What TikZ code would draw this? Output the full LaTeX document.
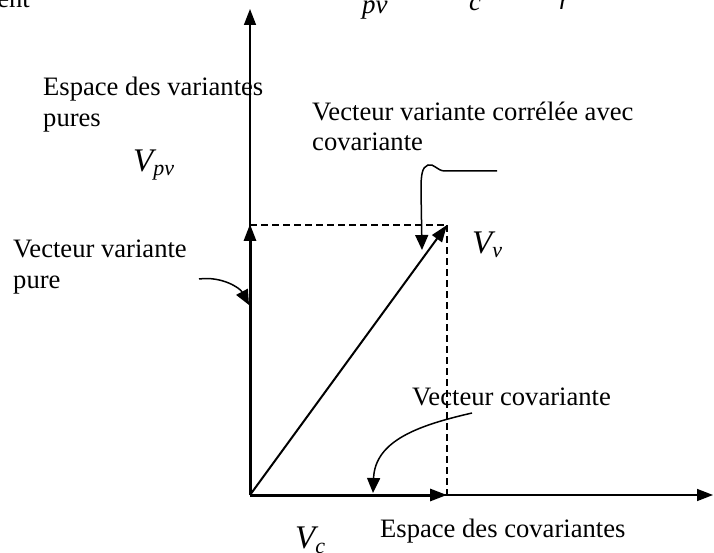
\documentclass[tikz,border=0pt]{standalone}
\usepackage{fontspec}
\setmainfont{Liberation Serif}
\usetikzlibrary{arrows.meta}
\begin{document}
\begin{tikzpicture}[x=1pt,y=-1pt,
  lbl/.style={anchor=base west, inner sep=0pt, font=\fontsize{26.6}{31}\selectfont},
  vlbl/.style={anchor=base west, inner sep=0pt, font=\fontsize{33}{36}\selectfont\itshape},
  sublbl/.style={anchor=base west, inner sep=0pt, font=\fontsize{27}{30}\selectfont\itshape},
  axisline/.style={line width=1.5pt, -{Triangle[length=16pt,width=12pt]}},
  vecline/.style={line width=3pt, -{Triangle[length=17pt,width=12pt]}},
  diagline/.style={line width=2pt, -{Triangle[length=17pt,width=12pt]}},
  guide/.style={line width=1.5pt, dash pattern=on 7pt off 4pt},
  pointer/.style={line width=1.5pt, -{Triangle[length=15pt,width=13pt]}}]
\useasboundingbox (0,0) rectangle (714,553);
\clip (0,0) rectangle (714,553);
% key points
\coordinate (O) at (250,495);
\coordinate (Ytop) at (250,9);
\coordinate (Xend) at (713,495);
\coordinate (Vc) at (447,495);
\coordinate (Vp) at (250,224);
\coordinate (Vv) at (447,225);
% guides
\draw[guide] (250,225) -- (Vv);
\draw[guide] (Vv) -- (Vc);
% axes
\draw[axisline] (O) -- (Ytop);
\draw[axisline] (O) -- (Xend);
% vectors
\draw[vecline] (O) -- (Vp);
\draw[vecline] (O) -- (Vc);
\draw[diagline] (O) -- (Vv);
% cut-off top texts
\node[lbl, anchor=base east] (topent) at (30,8) {ent};
\node[sublbl] (toppv) at (362,14) {pv};
\node[sublbl] (topc) at (469,11) {c};
\node[sublbl] (topr) at (559,10) {r};
% labels
\node[lbl] (esv1) at (43,96) {Espace des variantes};
\node[lbl] (esv2) at (43,127) {pures};
\node[vlbl] (Vpv) at (133,172) {V\raisebox{-4pt}{\fontsize{22}{24}\selectfont pv}};
\node[lbl] (vvc1) at (312,121) {Vecteur variante corrélée avec};
\node[lbl] (vvc2) at (312,151) {covariante};
\node[vlbl] (Vvl) at (472,253) {V\raisebox{-5pt}{\fontsize{22}{24}\selectfont v}};
\node[lbl] (vvp1) at (13,257) {Vecteur variante};
\node[lbl] (vvp2) at (13,288) {pure};
\node[lbl] (vcov) at (412,405) {Vecteur covariante};
\node[lbl] (ecov) at (380,537) {Espace des covariantes};
\node[vlbl] (Vcl) at (295,548) {V\raisebox{-5pt}{\fontsize{22}{24}\selectfont c}};
% pointers
\coordinate (p1s) at (497,171);
\coordinate (p1e) at (422,250);
\draw[pointer] (p1s) -- (445,171) .. controls (437,171) and (434,163) .. (428,165)
  .. controls (422,167) and (421,175) .. (421,190) -- (p1e);
\coordinate (p2s) at (199,279);
\coordinate (p2e) at (249,305);
\draw[pointer] (p2s) .. controls (222,276) and (240,288) .. (p2e);
\coordinate (p3s) at (472,413);
\coordinate (p3e) at (373,493);
\draw[pointer] (p3s) .. controls (420,425) and (375,440) .. (p3e);
\end{tikzpicture}
\end{document}
